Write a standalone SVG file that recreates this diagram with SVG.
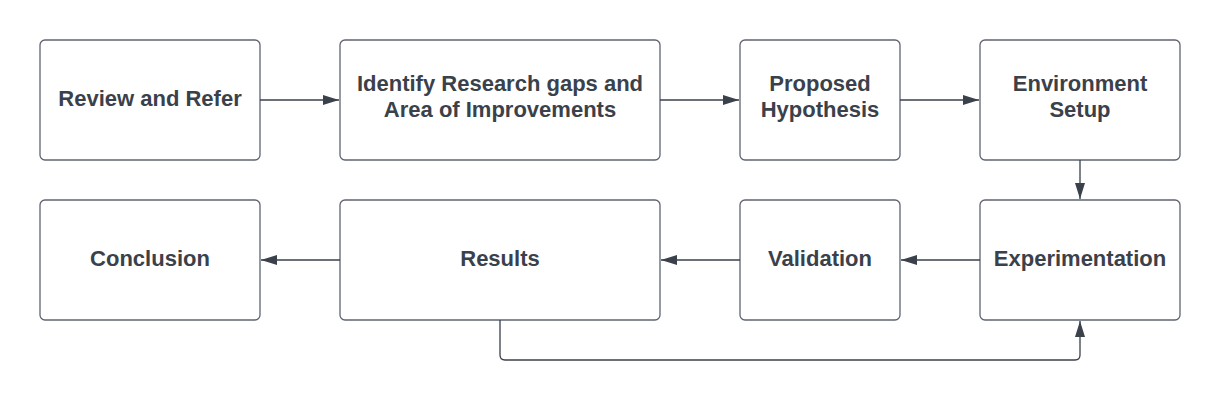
<svg xmlns="http://www.w3.org/2000/svg" width="1220" height="401" viewBox="0 0 1220 401">
<style>
.box{fill:#ffffff;stroke:#5e6470;stroke-width:1.3}
.t{font-family:"Liberation Sans",Arial,sans-serif;font-weight:bold;font-size:22px;fill:#3a414a;text-anchor:middle}
.c{fill:none;stroke:#3a414a;stroke-width:1.3}
</style>
<defs>
<marker id="ah" viewBox="0 0 16 10" refX="16" refY="5" markerWidth="16" markerHeight="10" markerUnits="userSpaceOnUse" orient="auto">
<path d="M0,0 L16,5 L0,10 Z" fill="#3a414a"/>
</marker>
</defs>
<rect width="1220" height="401" fill="#ffffff"/>
<g id="n1"><rect class="box" x="40" y="40" width="220" height="120" rx="5"/><text class="t" x="150" y="106">Review and Refer</text></g>
<g id="n2"><rect class="box" x="340" y="40" width="320" height="120" rx="5"/><text class="t" x="500" y="91">Identify Research gaps and</text><text class="t" x="500" y="117">Area of Improvements</text></g>
<g id="n3"><rect class="box" x="740" y="40" width="160" height="120" rx="5"/><text class="t" x="820" y="91">Proposed</text><text class="t" x="820" y="117">Hypothesis</text></g>
<g id="n4"><rect class="box" x="980" y="40" width="200" height="120" rx="5"/><text class="t" x="1080" y="91">Environment</text><text class="t" x="1080" y="117">Setup</text></g>
<g id="n5"><rect class="box" x="40" y="200" width="220" height="120" rx="5"/><text class="t" x="150" y="266">Conclusion</text></g>
<g id="n6"><rect class="box" x="340" y="200" width="320" height="120" rx="5"/><text class="t" x="500" y="266">Results</text></g>
<g id="n7"><rect class="box" x="740" y="200" width="160" height="120" rx="5"/><text class="t" x="820" y="266">Validation</text></g>
<g id="n8"><rect class="box" x="980" y="200" width="200" height="120" rx="5"/><text class="t" x="1080" y="266">Experimentation</text></g>
<g id="connectors">
<path class="c" d="M260,100 H339" marker-end="url(#ah)"/>
<path class="c" d="M660,100 H739" marker-end="url(#ah)"/>
<path class="c" d="M900,100 H979" marker-end="url(#ah)"/>
<path class="c" d="M1080,160 V199" marker-end="url(#ah)"/>
<path class="c" d="M980,260 H901" marker-end="url(#ah)"/>
<path class="c" d="M740,260 H661" marker-end="url(#ah)"/>
<path class="c" d="M340,260 H261" marker-end="url(#ah)"/>
<path class="c" d="M500,320 V355 Q500,360 505,360 H1075 Q1080,360 1080,355 V321" marker-end="url(#ah)"/>
</g>
</svg>
